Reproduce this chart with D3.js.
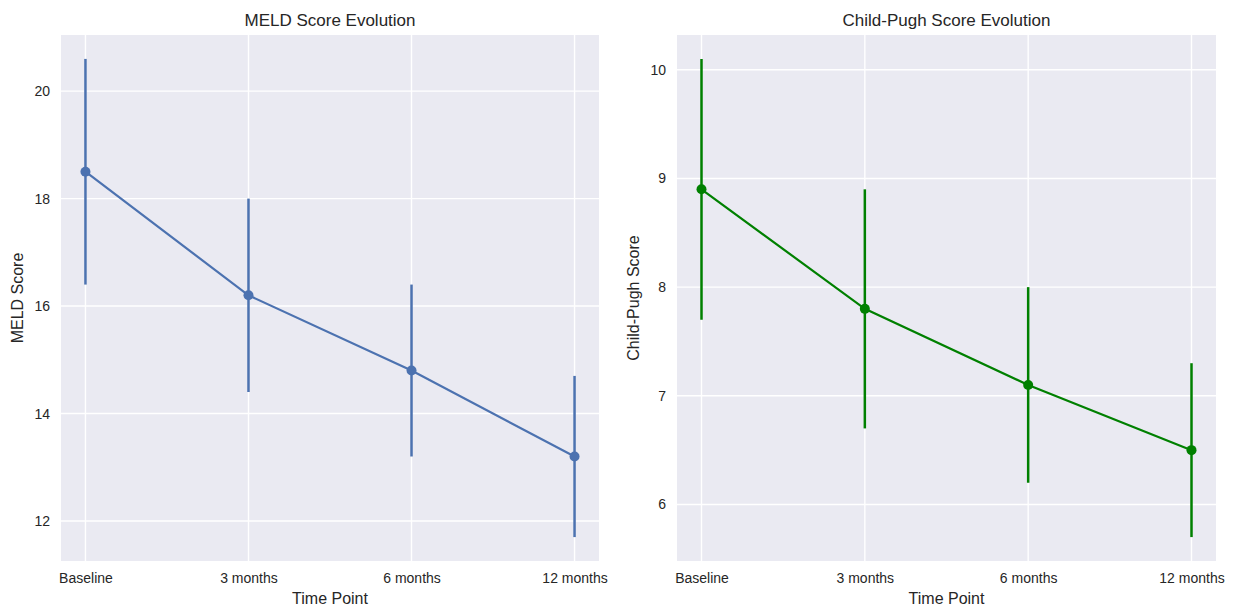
<!DOCTYPE html>
<html>
<head>
<meta charset="utf-8">
<script src="https://cdn.jsdelivr.net/npm/d3@7"></script>
<style>
  body { margin: 0; background: #fff; font-family: "Liberation Sans", Arial, sans-serif; }
  .tick text { fill: #262626; font-size: 14px; font-family: "Liberation Sans", Arial, sans-serif; }
  .axis-label { fill: #262626; font-size: 16px; }
  .title { fill: #262626; font-size: 17px; }
</style>
</head>
<body>
<div id="chart"></div>
<script>
// Time points and measured scores (mean +/- spread)
const timePoints = ['Baseline', '3 months', '6 months', '12 months'];

const meldMean = [18.5, 16.2, 14.8, 13.2];
const meldErr = [2.1, 1.8, 1.6, 1.5];
const meldTicks = [12, 14, 16, 18, 20];

const childMean = [8.9, 7.8, 7.1, 6.5];
const childErr = [1.2, 1.1, 0.9, 0.8];
const childTicks = [6, 7, 8, 9, 10];

const width = 1239;
const height = 607;

const svg = d3.select('#chart').append('svg')
  .attr('width', width)
  .attr('height', height);

function drawPanel(opts) {
  const { left, right, top, bottom, means, errs, ticks, color, title, yLabel } = opts;
  const innerW = right - left;
  const innerH = bottom - top;

  const g = svg.append('g').attr('transform', `translate(${left},${top})`);

  // point positions mimic seaborn's categorical axis (-0.15 .. n-0.85)
  const x = d3.scaleLinear()
    .domain([-0.15, timePoints.length - 0.85])
    .range([0, innerW]);

  const lo = d3.min(means, (d, i) => d - errs[i]);
  const hi = d3.max(means, (d, i) => d + errs[i]);
  const pad = (hi - lo) * 0.05;
  const y = d3.scaleLinear()
    .domain([lo - pad, hi + pad])
    .range([innerH, 0]);

  g.append('rect')
    .attr('width', innerW)
    .attr('height', innerH)
    .attr('fill', '#eaeaf2');

  // grid
  g.selectAll('.hgrid')
    .data(ticks)
    .enter().append('line')
    .attr('x1', 0).attr('x2', innerW)
    .attr('y1', d => y(d)).attr('y2', d => y(d))
    .attr('stroke', '#fff').attr('stroke-width', 1.4);

  g.selectAll('.vgrid')
    .data(timePoints)
    .enter().append('line')
    .attr('x1', (d, i) => x(i)).attr('x2', (d, i) => x(i))
    .attr('y1', 0).attr('y2', innerH)
    .attr('stroke', '#fff').attr('stroke-width', 1.4);

  // axes
  const xAxis = g.append('g')
    .attr('transform', `translate(0,${innerH})`)
    .call(d3.axisBottom(x)
      .tickValues(d3.range(timePoints.length))
      .tickFormat(i => timePoints[i])
      .tickSize(0)
      .tickPadding(12));
  xAxis.select('.domain').remove();

  const yAxis = g.append('g')
    .call(d3.axisLeft(y)
      .tickValues(ticks)
      .tickFormat(d3.format('d'))
      .tickSize(0)
      .tickPadding(11));
  yAxis.select('.domain').remove();

  // error bars
  g.selectAll('.err')
    .data(means)
    .enter().append('line')
    .attr('x1', (d, i) => x(i)).attr('x2', (d, i) => x(i))
    .attr('y1', (d, i) => y(d - errs[i]))
    .attr('y2', (d, i) => y(d + errs[i]))
    .attr('stroke', color)
    .attr('stroke-width', 2.5);

  const line = d3.line()
    .x((d, i) => x(i))
    .y(d => y(d));

  g.append('path')
    .datum(means)
    .attr('d', line)
    .attr('fill', 'none')
    .attr('stroke', color)
    .attr('stroke-width', 2.2);

  g.selectAll('.pt')
    .data(means)
    .enter().append('circle')
    .attr('cx', (d, i) => x(i))
    .attr('cy', d => y(d))
    .attr('r', 5)
    .attr('fill', color);

  svg.append('text')
    .attr('class', 'title')
    .attr('x', left + innerW / 2)
    .attr('y', top - 9)
    .attr('text-anchor', 'middle')
    .text(title);

  svg.append('text')
    .attr('class', 'axis-label')
    .attr('x', left + innerW / 2)
    .attr('y', bottom + 43)
    .attr('text-anchor', 'middle')
    .text('Time Point');

  svg.append('text')
    .attr('class', 'axis-label')
    .attr('transform', `translate(${left - 38},${top + innerH / 2}) rotate(-90)`)
    .attr('text-anchor', 'middle')
    .text(yLabel);
}

drawPanel({
  left: 61, right: 599, top: 35, bottom: 561,
  means: meldMean, errs: meldErr, ticks: meldTicks,
  color: '#4c72b0', title: 'MELD Score Evolution', yLabel: 'MELD Score'
});

drawPanel({
  left: 677, right: 1216, top: 35, bottom: 561,
  means: childMean, errs: childErr, ticks: childTicks,
  color: '#008000', title: 'Child-Pugh Score Evolution', yLabel: 'Child-Pugh Score'
});
</script>
</body>
</html>
